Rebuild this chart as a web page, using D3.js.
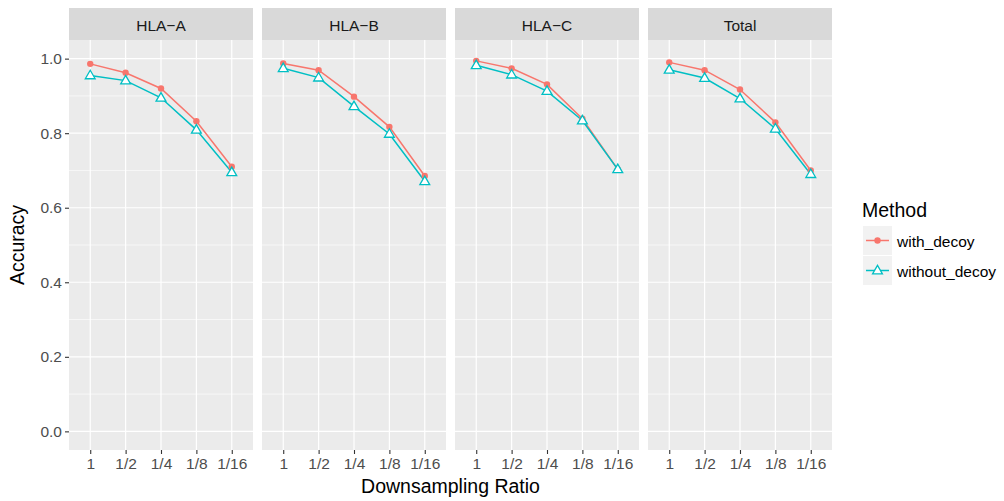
<!DOCTYPE html>
<html>
<head>
<meta charset="utf-8">
<script src="https://cdn.jsdelivr.net/npm/d3@7"></script>
<style>
  body { margin: 0; background: #fff; }
  svg { display: block; font-family: "Liberation Sans", Arial, sans-serif; }
</style>
</head>
<body>
<svg width="1004" height="501"></svg>
<script>
// panel names, x categories, and accuracy per method
var panels = ["HLA\u2212A", "HLA\u2212B", "HLA\u2212C", "Total"];
var ratios = ["1", "1/2", "1/4", "1/8", "1/16"];
var methods = ["with_decoy", "without_decoy"];
var withDecoy = [
  [0.986, 0.962, 0.920, 0.832, 0.710],
  [0.987, 0.969, 0.898, 0.817, 0.685],
  [0.994, 0.974, 0.931, 0.839, 0.703],
  [0.990, 0.969, 0.917, 0.829, 0.700]
];
var withoutDecoy = [
  [0.955, 0.941, 0.895, 0.809, 0.695],
  [0.974, 0.949, 0.872, 0.798, 0.671],
  [0.982, 0.957, 0.913, 0.834, 0.703],
  [0.970, 0.948, 0.893, 0.812, 0.690]
];
var yTicks = [0, 0.2, 0.4, 0.6, 0.8, 1.0];
var yMinor = [0.1, 0.3, 0.5, 0.7, 0.9];

var colors = ["#F8766D", "#00BFC4"];

var svg = d3.select("svg");

// layout of the facet grid
const panelLeft = 69, panelW = 184, panelGap = 9;
const stripTop = 8, stripH = 32;
const plotTop = stripTop + stripH, plotBottom = 450;
const smallFont = 15.5, bigFont = 19.5;

var yScale = d3.scaleLinear().domain([-0.05, 1.05]).range([plotBottom, plotTop]);

panels.forEach(function (name, p) {
  var x0 = panelLeft + p * (panelW + panelGap);
  var xScale = d3.scalePoint().domain(ratios).range([0, panelW]).padding(0.6);

  var g = svg.append("g").attr("transform", `translate(${x0},0)`);

  // strip
  g.append("rect")
    .attr("x", 0).attr("y", stripTop)
    .attr("width", panelW).attr("height", stripH)
    .attr("fill", "#d9d9d9");
  g.append("text")
    .attr("x", panelW / 2).attr("y", 30.5)
    .attr("text-anchor", "middle")
    .attr("font-size", smallFont)
    .attr("fill", "#1a1a1a")
    .text(name);

  // panel background
  g.append("rect")
    .attr("x", 0).attr("y", plotTop)
    .attr("width", panelW).attr("height", plotBottom - plotTop)
    .attr("fill", "#ebebeb");

  // minor then major grid
  g.selectAll(".minor")
    .data(yMinor)
    .join("line")
    .attr("x1", 0).attr("x2", panelW)
    .attr("y1", d => yScale(d)).attr("y2", d => yScale(d))
    .attr("stroke", "#fff").attr("stroke-width", 0.6);
  g.selectAll(".major-y")
    .data(yTicks)
    .join("line")
    .attr("x1", 0).attr("x2", panelW)
    .attr("y1", d => yScale(d)).attr("y2", d => yScale(d))
    .attr("stroke", "#fff").attr("stroke-width", 1.2);
  g.selectAll(".major-x")
    .data(ratios)
    .join("line")
    .attr("x1", d => xScale(d)).attr("x2", d => xScale(d))
    .attr("y1", plotTop).attr("y2", plotBottom)
    .attr("stroke", "#fff").attr("stroke-width", 1.2);

  // x axis
  var xAxis = d3.axisBottom(xScale).tickSize(4).tickPadding(4);
  var xg = g.append("g")
    .attr("transform", `translate(0,${plotBottom})`)
    .call(xAxis);
  xg.select(".domain").remove();
  xg.selectAll(".tick line").attr("stroke", "#333").attr("stroke-width", 1.1);
  xg.selectAll(".tick text")
    .attr("fill", "#4d4d4d")
    .attr("font-size", smallFont)
    .attr("font-family", "Liberation Sans, Arial, sans-serif");

  // y axis only on first panel
  if (p === 0) {
    var yAxis = d3.axisLeft(yScale).tickValues(yTicks)
      .tickFormat(d3.format(".1f")).tickSize(4).tickPadding(3);
    var yg = g.append("g").call(yAxis);
    yg.select(".domain").remove();
    yg.selectAll(".tick line").attr("stroke", "#333").attr("stroke-width", 1.1);
    yg.selectAll(".tick text")
      .attr("fill", "#4d4d4d")
      .attr("font-size", smallFont)
      .attr("font-family", "Liberation Sans, Arial, sans-serif");
  }

  var series = [withDecoy[p], withoutDecoy[p]];
  var line = d3.line()
    .x((d, i) => xScale(ratios[i]))
    .y(d => yScale(d));

  series.forEach(function (vals, m) {
    g.append("path")
      .attr("d", line(vals))
      .attr("fill", "none")
      .attr("stroke", colors[m])
      .attr("stroke-width", 1.5);
  });

  // with_decoy points: filled circles
  g.selectAll(".pt-with")
    .data(withDecoy[p])
    .join("circle")
    .attr("cx", (d, i) => xScale(ratios[i]))
    .attr("cy", d => yScale(d))
    .attr("r", 3.2)
    .attr("fill", colors[0]);

  // without_decoy points: open triangles
  var tri = d3.symbol().type(d3.symbolTriangle).size(42);
  g.selectAll(".pt-without")
    .data(withoutDecoy[p])
    .join("path")
    .attr("d", tri)
    .attr("transform", (d, i) => `translate(${xScale(ratios[i])},${yScale(d) + 0.5})`)
    .attr("fill", "#fff")
    .attr("stroke", colors[1])
    .attr("stroke-width", 1.3);
});

// axis titles
svg.append("text")
  .attr("x", panelLeft + (4 * panelW + 3 * panelGap) / 2)
  .attr("y", 492.5)
  .attr("text-anchor", "middle")
  .attr("font-size", bigFont)
  .attr("fill", "#000")
  .text("Downsampling Ratio");

svg.append("text")
  .attr("transform", `translate(24,${(plotTop + plotBottom) / 2}) rotate(-90)`)
  .attr("text-anchor", "middle")
  .attr("font-size", bigFont)
  .attr("fill", "#000")
  .text("Accuracy");

// legend
var legend = svg.append("g").attr("transform", "translate(862,0)");
legend.append("text")
  .attr("x", 0).attr("y", 216.5)
  .attr("font-size", bigFont)
  .attr("fill", "#000")
  .text("Method");

var keySize = 29;
methods.forEach(function (m, i) {
  var ky = 226 + i * (keySize + 1);
  var k = legend.append("g").attr("transform", `translate(1,${ky})`);
  k.append("rect")
    .attr("width", keySize).attr("height", keySize)
    .attr("fill", "#f2f2f2");
  k.append("line")
    .attr("x1", 3).attr("x2", keySize - 3)
    .attr("y1", keySize / 2).attr("y2", keySize / 2)
    .attr("stroke", colors[i]).attr("stroke-width", 1.5);
  if (i === 0) {
    k.append("circle")
      .attr("cx", keySize / 2).attr("cy", keySize / 2)
      .attr("r", 3.2).attr("fill", colors[0]);
  } else {
    k.append("path")
      .attr("d", d3.symbol().type(d3.symbolTriangle).size(42)())
      .attr("transform", `translate(${keySize / 2},${keySize / 2 + 0.5})`)
      .attr("fill", "#fff")
      .attr("stroke", colors[1])
      .attr("stroke-width", 1.3);
  }
  legend.append("text")
    .attr("x", keySize + 6).attr("y", ky + keySize / 2 + 6)
    .attr("font-size", smallFont)
    .attr("fill", "#000")
    .text(m);
});
</script>
</body>
</html>
